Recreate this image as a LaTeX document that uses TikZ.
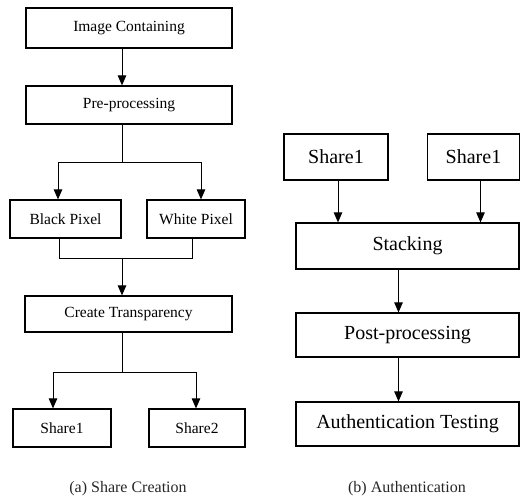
\documentclass[tikz,border=0pt]{standalone}
\usepackage{fontspec}
\setmainfont{Liberation Serif}
\usetikzlibrary{arrows.meta}

\begin{document}
\begin{tikzpicture}[x=1pt,y=-1pt,
  lbox/.style={draw,line width=1.2pt,inner sep=0pt,font=\fontsize{15.5}{18}\selectfont},
  rbox/.style={draw,line width=1.2pt,inner sep=0pt,font=\fontsize{20}{24}\selectfont},
  arr/.style={-{Triangle[length=10pt,width=8.5pt]},line width=.9pt},
  lnk/.style={line width=.9pt},
  capt/.style={font=\fontsize{16}{19}\selectfont,text=black!85}]

\useasboundingbox (0,0) rectangle (522,503);

\node[lbox,minimum width=206pt,minimum height=40pt] (img) at (129,28) {Image Containing};
\node[lbox,minimum width=206pt,minimum height=38pt] (pre) at (129,105) {Pre-processing};
\node[lbox,minimum width=111pt,minimum height=38pt] (black) at (65.5,219) {Black Pixel};
\node[lbox,minimum width=98pt,minimum height=38pt] (white) at (196,219) {White Pixel};
\node[lbox,minimum width=207pt,minimum height=36pt] (trans) at (128.5,314) {Create Transparency};
\node[lbox,minimum width=98pt,minimum height=38pt] (sa) at (62,428) {Share1};
\node[lbox,minimum width=96pt,minimum height=38pt] (sb) at (197,428) {Share2};

\coordinate (split1) at (122,162);
\coordinate (join1) at (122,258);
\coordinate (split2) at (122,372);

\draw[arr] ([xshift=-7pt]img.south) -- ([xshift=-7pt]pre.north);
\draw[lnk] ([xshift=-7pt]pre.south) -- (split1);
\draw[arr] (split1) -| ([xshift=-7.5pt]black.north);
\draw[arr] (split1) -| ([xshift=5pt]white.north);
\draw[lnk] ([xshift=-6.5pt]black.south) |- (join1);
\draw[lnk] ([xshift=-4pt]white.south) |- (join1);
\draw[arr] (join1) -- (join1 |- trans.north);
\draw[lnk] ([xshift=-6.5pt]trans.south) -- (split2);
\draw[arr] (split2) -| ([xshift=-9pt]sa.north);
\draw[arr] (split2) -| ([xshift=-1pt]sb.north);

\node[rbox,minimum width=104pt,minimum height=46pt] (r1) at (336,157) {Share1};
\node[rbox,minimum width=92pt,minimum height=46pt] (r2) at (473.5,157) {Share1};
\node[rbox,minimum width=223pt,minimum height=46pt] (stack) at (407.5,246) {Stacking};
\node[rbox,minimum width=223pt,minimum height=44pt] (post) at (407.5,335) {Post-processing};
\node[rbox,minimum width=223pt,minimum height=44pt] (auth) at (407.5,424) {Authentication Testing};

\draw[arr] ([xshift=2pt]r1.south) -- ([xshift=2pt]r1.south |- stack.north);
\draw[arr] ([xshift=7pt]r2.south) -- ([xshift=7pt]r2.south |- stack.north);
\draw[arr] ([xshift=-9pt]stack.south) -- ([xshift=-9pt]post.north);
\draw[arr] ([xshift=-9pt]post.south) -- ([xshift=-9pt]auth.north);

\node[capt] (capa) at (128,489) {(a) Share Creation};
\node[capt] (capb) at (407,489) {(b) Authentication};

\end{tikzpicture}
\end{document}
